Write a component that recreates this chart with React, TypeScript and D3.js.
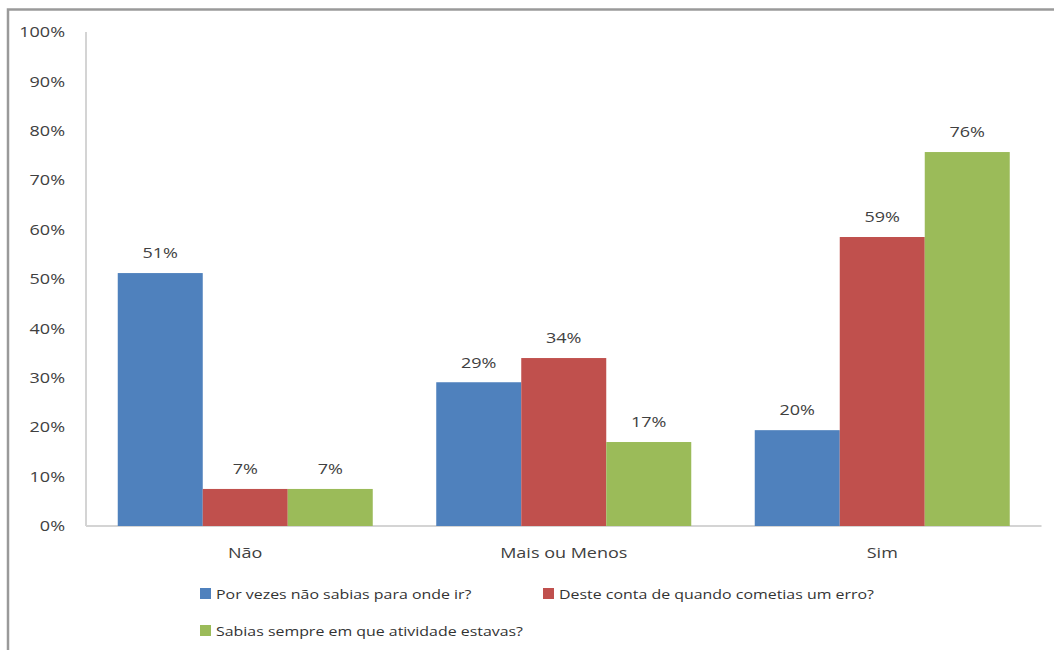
import React from "react";
import * as d3 from "d3";

const categories = ["Não", "Mais ou Menos", "Sim"];
const seriesNames = [
  "Por vezes não sabias para onde ir?",
  "Deste conta de quando cometias um erro?",
  "Sabias sempre em que atividade estavas?",
];
const seriesColors = ["#4F81BD", "#C0504D", "#9BBB59"];
const blueValues = [51.2, 29.1, 19.4];
const redValues = [7.5, 34.0, 58.5];
const greenValues = [7.5, 17.0, 75.7];
const valueLabels = [
  ["51%", "29%", "20%"],
  ["7%", "34%", "59%"],
  ["7%", "17%", "76%"],
];
const yTicks = [0, 10, 20, 30, 40, 50, 60, 70, 80, 90, 100];

const font = "'Open Sans', 'DejaVu Sans', sans-serif";

function T(props: {
  x: number;
  y: number;
  anchor?: "start" | "middle" | "end";
  size: number;
  sx?: number;
  fill?: string;
  children: React.ReactNode;
}) {
  const { x, y, anchor = "start", size, sx = 1.2, fill = "#404040", children } = props;
  return (
    <text
      transform={`translate(${x},${y}) scale(${sx},1)`}
      dy="0.35em"
      textAnchor={anchor}
      fontFamily={font}
      fontSize={size}
      fill={fill}
    >
      {children}
    </text>
  );
}

export default function App() {
  const W = 1054;
  const H = 650;
  const left = 86;
  const right = 1041.5;
  const top = 32;
  const bottom = 526;
  const series = [blueValues, redValues, greenValues];
  const x0 = d3.scaleBand<string>().domain(categories).range([left, right]).paddingInner(0).paddingOuter(0);
  const inner = d3
    .scaleBand<number>()
    .domain([0, 1, 2])
    .range([0, x0.bandwidth()])
    .paddingInner(0)
    .paddingOuter(0.3735);
  const y = d3.scaleLinear().domain([0, 100]).range([bottom, top]);

  const legendItems = [
    { i: 0, x: 200, y: 594 },
    { i: 1, x: 543, y: 594 },
    { i: 2, x: 200, y: 631 },
  ];

  return (
    <svg width={W} height={H} style={{ position: "absolute", left: 0, top: 0, background: "#fff" }}>
      <rect x={0} y={0} width={W} height={H} fill="#fff" />
      <path d={`M8,${H + 5} L8,9.5 L${W + 5},9.5`} fill="none" stroke="#9a9a9a" strokeWidth={2.5} />
      <line x1={left} x2={left} y1={top} y2={bottom} stroke="#d4d4d4" strokeWidth={2} />
      <line x1={left} x2={right} y1={bottom} y2={bottom} stroke="#d4d4d4" strokeWidth={2} />
      {yTicks.map((t) => (
        <T key={t} x={65} y={y(t)} anchor="end" size={15}>
          {t}%
        </T>
      ))}
      {series.map((vals, si) =>
        categories.map((c, ci) => {
          const bx = (x0(c) as number) + (inner(si) as number);
          const bw = inner.bandwidth();
          const v = vals[ci];
          return (
            <g key={`${si}-${ci}`}>
              <rect x={bx} y={y(v)} width={bw} height={bottom - y(v)} fill={seriesColors[si]} />
              <T x={bx + bw / 2} y={y(v) - 20} anchor="middle" size={15}>
                {valueLabels[si][ci]}
              </T>
            </g>
          );
        })
      )}
      {categories.map((c) => (
        <T key={c} x={(x0(c) as number) + x0.bandwidth() / 2} y={552.5} anchor="middle" size={15}>
          {c}
        </T>
      ))}
      {legendItems.map(({ i, x, y: ly }) => (
        <g key={i}>
          <rect x={x} y={ly - 6} width={11} height={11} fill={seriesColors[i]} />
          <T x={x + 16} y={ly} size={13.5} sx={1.18} fill="#333">
            {seriesNames[i]}
          </T>
        </g>
      ))}
    </svg>
  );
}
